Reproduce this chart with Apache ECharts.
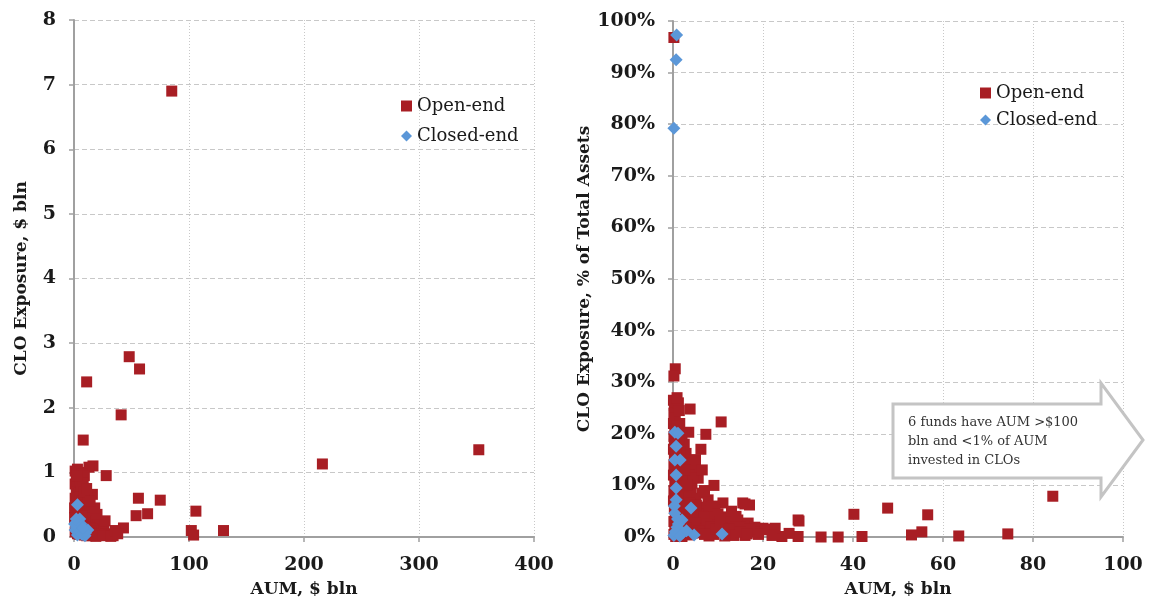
<!DOCTYPE html>
<html>
<head>
<meta charset="utf-8">
<script src="https://cdn.jsdelivr.net/npm/echarts@6/dist/echarts.min.js"></script>
<style>html,body{margin:0;padding:0;background:#fff}#c{width:1150px;height:606px}</style>
</head>
<body>
<div id="c"></div>
<script>
// Left panel: AUM ($ bln) vs CLO exposure ($ bln)
const leftOpenEnd = [
  [85,6.9],[48,2.79],[57,2.6],[11,2.4],[41,1.89],[8,1.5],[216,1.13],[352,1.35],[28,0.95],[16.5,1.1],[13,1.08],
  [56,0.6],[75,0.57],[54,0.33],[64,0.36],[106,0.4],[102,0.1],[104,0.03],[130,0.1],[43,0.14],[34,0.02],[16,0.66],
  [1,1.02],[3,1.05],[5,1.0],[7,0.98],[2,0.92],[4,0.88],[6,0.9],[9,0.95],[1,0.82],[3,0.78],[5,0.8],[8,0.84],
  [2,0.7],[4,0.68],[6,0.72],[1,0.6],[3,0.58],[5,0.62],[7,0.55],[2,0.48],[4,0.45],[6,0.42],[8,0.4],[10,0.38],
  [12,0.42],[14,0.35],[3,0.35],[5,0.3],[7,0.28],[9,0.3],[11,0.25],[13,0.28],[15,0.3],[17,0.22],[19,0.25],
  [21,0.18],[23,0.2],[2,0.22],[4,0.18],[6,0.15],[8,0.12],[10,0.15],[12,0.1],[14,0.14],[16,0.12],[18,0.08],
  [20,0.1],[22,0.06],[24,0.08],[26,0.12],[28,0.05],[30,0.03],[1,0.08],[3,0.05],[5,0.04],[7,0.06],[9,0.03],
  [11,0.02],[13,0.05],[15,0.02],[17,0.04],[19,0.01],[25,0.02],[32,0.01],[10,0.5],[12,0.6],[9,0.7],[7,0.32],
  [36,0.1],[27,0.25],[20,0.35],[18,0.45],[14,0.55],[11,0.75],[3,0.95],[0.5,0.45],[0.5,0.3],[38,0.05]
];
const leftClosedEnd = [
  [3,0.5],[5,0.28],[6,0.2],[2,0.15],[12,0.11],[1,0.11],[3,0.03],[9.5,0.02],[5,0.08],[7,0.04],
  [10,0.06],[0.5,0.2],[2,0.28],[8,0.14]
];
// Right panel: AUM ($ bln) vs CLO exposure (% of total assets)
const rightOpenEnd = [
  [0.2,96.8],[0.5,32.6],[0.2,31.2],[0.1,26.5],[0.3,25.5],[0.2,24],[0.5,23],[0.1,22],[0.4,21],[0.2,19.5],
  [0.6,18.5],[0.1,17],[0.3,16],[0.8,15],[0.2,14],[0.5,13],[1,12.5],[0.1,12],[0.4,11],[0.7,10],[1.2,9.5],
  [0.2,9],[0.5,8],[1.5,8.5],[0.1,7],[0.8,6.5],[1.8,7],[0.3,5.5],[1.2,5],[2.2,5.5],[0.5,4],[1.5,3.5],[2.5,4.2],
  [0.2,3],[1,2.5],[2,2],[3,2.8],[0.4,1.5],[1.5,1],[2.5,0.8],[0.2,0.5],[1,0.3],[3.5,0.4],[0.6,0.1],[2,0.1],
  [3.8,24.8],[10.7,22.3],[3.5,20.3],[7.3,19.9],[6.2,17],[2.9,16.2],[9.1,10],[11.1,6.6],[16,6.4],[27.8,3.3],
  [15.5,6.6],[17,6.2],[84.4,7.9],[47.7,5.6],[40.2,4.4],[56.6,4.3],[28,3.1],[55.3,1.0],[53,0.4],[63.5,0.2],
  [74.4,0.6],[42,0.1],[36.7,0],[32.9,0],[27.8,0.1],[24.2,0.1],[25.8,0.7],[21.7,1.5],[20,1.7],
  [3.3,14.3],[4.9,13],[5.6,11.4],[4.2,10.4],[6.4,8.5],[7.8,7.2],[7.1,5.8],[9.3,5.2],[10.9,3.9],[13.1,3.9],
  [14.4,3.3],[16.7,2.7],[18.2,1.9],[20.4,1.4],[22.7,1.7],
  [4,9],[5,7.5],[3,6],[6,5],[4,4],[8,4],[6,3],[9,3],[11,2.5],[13,2],[5,2],[7,1.5],[10,1],[12,0.5],[14,1],
  [16,0.3],[18,1],[8,0.2],[6,0.8],[4,1.5],[3.5,12],[2.5,11],[3,8],[19,0.5],[22,0.3],[2,14],[2.5,18],[5,15],
  [4.5,11.5],[9,6],[7,9],[6.5,13],[10,4.5],[12,3.5],[13,5],[15,2],[17,1.5],[14,4],[11,1.8],[9,0.5],
  [1.5,22],[1.2,26],[2,20],[1,17],
  [0.9,27],[1.4,24.5],[0.8,21.5],[1.3,19],[1.6,16.5],[1.1,14],[1.9,12],[0.9,11],[2.3,9.8],[2.8,7.5],[3.2,10],
  [2.6,13],[3.8,6.5],[4.5,5.5],[5.5,4.5],[5.2,6.2],[6.8,3.8],[7.5,2.5],[8.5,2],[9.5,1.5],[3.5,3],[4.8,2.8],
  [5.8,1.2],[7,0.5],[2.8,1.8],[4.2,0.7],[10.5,3],[12.5,1.5],[13.5,0.3],[15,1],[16.5,0.6],[11.5,0.2],[0.3,18],
  [0.7,16],[1.2,7.5],[0.4,6.2],[2,6],[1.7,4.5],[3,5]
];
const rightClosedEnd = [
  [0.8,97.3],[0.7,92.5],[0.2,79.2],[0.4,20.3],[1.1,20.1],[0.7,17.6],[0.4,14.9],[1.6,14.9],[0.7,12],[0.7,9.5],
  [0.7,7.2],[4,5.6],[0.4,4.6],[2,3.3],[4.7,0.4],[10.9,0.6],[0.9,1.9],[2.2,0.8],[0.2,0.3],[1.2,2.5],[0.5,1],
  [1.5,0.2],[3,1.2],[0.3,6],[1,3.5]
];
const seriesNames = ['Open-end','Closed-end'];
const noteLines = ['6 funds have AUM >$100','bln and <1% of AUM','invested in CLOs'];
const xNames = ['AUM, $ bln','AUM, $ bln'];
const yNames = ['CLO Exposure, $ bln','CLO Exposure, % of Total Assets'];

const RED = '#A81E24', BLUE = '#5B97D8';
const FONT = 'DejaVu Serif';
const tickLabel = {fontFamily: FONT, fontWeight: 'bold', fontSize: 19, color: '#1a1a1a'};
const axisLine = {show: true, onZero: false, lineStyle: {color: '#a0a0a0', width: 2}};
const axisTick = {show: true, length: 5, lineStyle: {color: '#a0a0a0', width: 1.5}};
const nameStyle = {fontFamily: FONT, fontWeight: 'bold', fontSize: 17, color: '#1a1a1a'};

function xAxis(gi, max, interval) {
  return {type: 'value', gridIndex: gi, min: 0, max: max, interval: interval,
    name: xNames[gi], nameLocation: 'middle', nameGap: 44, nameTextStyle: nameStyle,
    axisLine: axisLine, axisTick: axisTick, axisLabel: Object.assign({margin: 19}, tickLabel),
    splitLine: {show: true, lineStyle: {color: '#c8c8c8', type: [1, 2], width: 1}}};
}
function yAxis(gi, max, interval, fmt, gap) {
  return {type: 'value', gridIndex: gi, min: 0, max: max, interval: interval,
    name: yNames[gi], nameLocation: 'middle', nameGap: gap, nameTextStyle: nameStyle,
    axisLine: axisLine, axisTick: axisTick, axisLabel: Object.assign({margin: 18, formatter: fmt}, tickLabel),
    splitLine: {show: true, lineStyle: {color: '#c8c8c8', type: [5, 3], width: 1}}};
}
function sc(name, data, gi, isClosed) {
  return {type: 'scatter', name: name, xAxisIndex: gi, yAxisIndex: gi, data: data,
    symbol: isClosed ? 'diamond' : 'rect', symbolSize: isClosed ? 13 : 11,
    itemStyle: {color: isClosed ? BLUE : RED, opacity: 1}, z: isClosed ? 3 : 2, clip: false};
}
function legend(left, top, gap) {
  return {orient: 'vertical', left: left, top: top, itemGap: gap, itemWidth: 11, itemHeight: 11,
    data: [{name: seriesNames[0], icon: 'rect'}, {name: seriesNames[1], icon: 'diamond'}],
    textStyle: {fontFamily: FONT, fontSize: 18, color: '#1a1a1a'}, selectedMode: false};
}

const chart = echarts.init(document.getElementById('c'), null, {renderer: 'canvas'});
chart.setOption({
  animation: false,
  backgroundColor: '#fff',
  grid: [
    {left: 74, right: 616, top: 20, bottom: 69, containLabel: false},
    {left: 673, right: 27, top: 21, bottom: 69, containLabel: false}
  ],
  xAxis: [xAxis(0, 400, 100), xAxis(1, 100, 20)],
  yAxis: [yAxis(0, 8, 1, '{value}', 44), yAxis(1, 100, 10, '{value}%', 72)],
  legend: [legend(396, 92, 12), legend(975, 79, 9)],
  series: [
    sc(seriesNames[0], leftOpenEnd, 0, false),
    sc(seriesNames[1], leftClosedEnd, 0, true),
    sc(seriesNames[0], rightOpenEnd, 1, false),
    sc(seriesNames[1], rightClosedEnd, 1, true)
  ],
  graphic: [
    {type: 'polygon', z: 100,
      shape: {points: [[893,404],[1101,404],[1101,383],[1143,440],[1101,497],[1101,478],[893,478]]},
      style: {fill: '#fff', stroke: '#c4c4c4', lineWidth: 3}},
    {type: 'text', z: 101, left: 908, top: 413,
      style: {text: noteLines.join('\n'), fontFamily: FONT, fontSize: 13, lineHeight: 19, fill: '#333'}}
  ]
});
</script>
</body>
</html>
